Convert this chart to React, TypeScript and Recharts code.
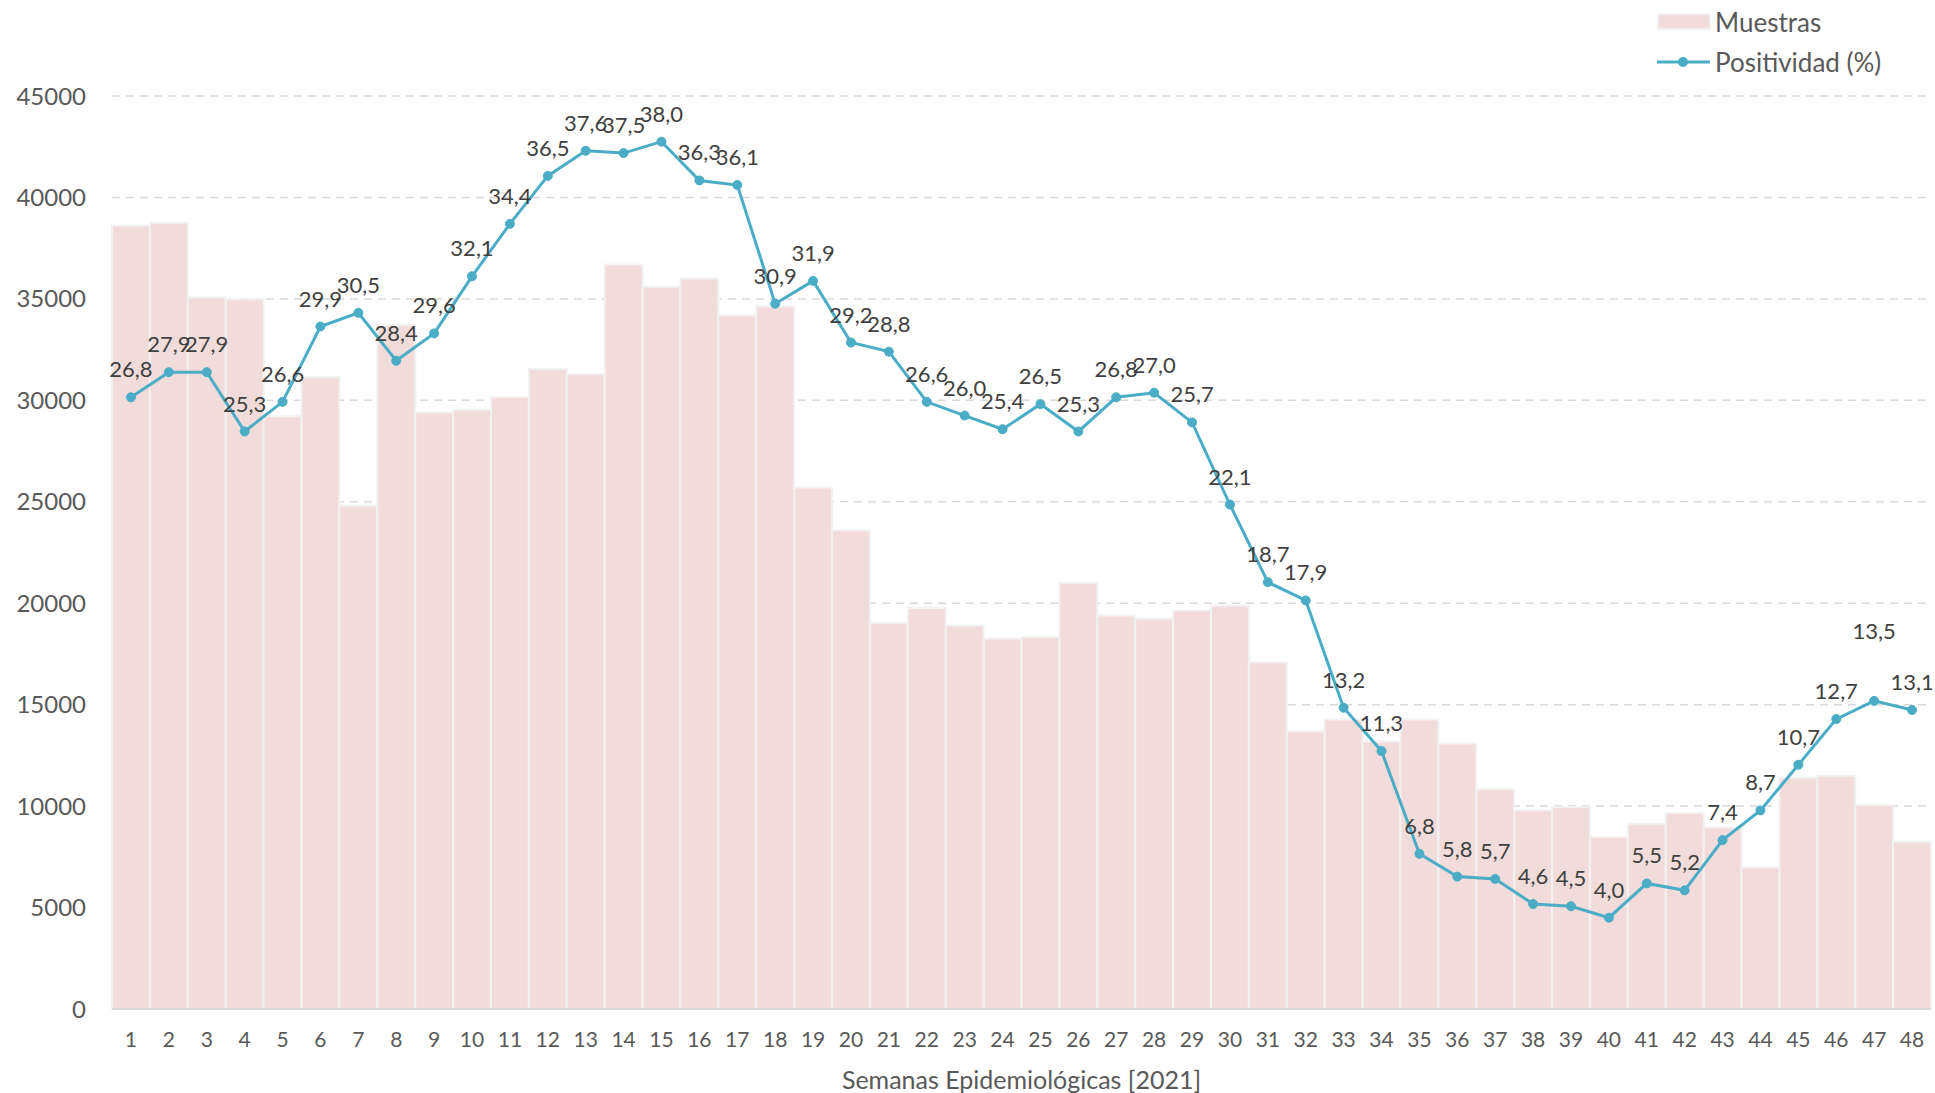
import { ComposedChart, Bar, Line, XAxis, YAxis, CartesianGrid, LabelList } from 'recharts';

const weeks = Array.from({ length: 48 }, (_, i) => String(i + 1));

const muestras = [
  38600, 38750, 35080, 34980, 29210, 31150, 24820, 33700, 29400, 29540,
  30160, 31550, 31300, 36700, 35600, 36000, 34180, 34640, 25700, 23600,
  19030, 19760, 18900, 18260, 18320, 21000, 19400, 19230, 19640, 19880,
  17090, 13680, 14270, 13180, 14270, 13080, 10830, 9800, 9960, 8480,
  9130, 9660, 8950, 6980, 11400, 11500, 10040, 8260,
];

const positividad = [
  26.8, 27.9, 27.9, 25.3, 26.6, 29.9, 30.5, 28.4, 29.6, 32.1,
  34.4, 36.5, 37.6, 37.5, 38.0, 36.3, 36.1, 30.9, 31.9, 29.2,
  28.8, 26.6, 26.0, 25.4, 26.5, 25.3, 26.8, 27.0, 25.7, 22.1,
  18.7, 17.9, 13.2, 11.3, 6.8, 5.8, 5.7, 4.6, 4.5, 4.0,
  5.5, 5.2, 7.4, 8.7, 10.7, 12.7, 13.5, 13.1,
];

const leftTicks = [0, 5000, 10000, 15000, 20000, 25000, 30000, 35000, 40000, 45000];

const data = weeks.map((w, i) => ({ week: w, muestras: muestras[i], positividad: positividad[i] }));

const FONT = 'Lato, "Open Sans", sans-serif';
const TEXT = '#595959';
const BAR = '#F2DCDB';
const LINE = '#4BACC6';

// label for week 47 sits higher in the original
const labelLift: Record<number, number> = { 46: 42 };

const PointLabel = (props: any) => {
  const { x, y, value, index } = props;
  const lift = labelLift[index] || 0;
  return (
    <text x={x} y={y - 20 - lift} textAnchor="middle" fill="#404040" fontSize={22} fontFamily={FONT}>
      {Number(value).toFixed(1).replace('.', ',')}
    </text>
  );
};

const ChartLegend = () => (
  <div style={{ position: 'absolute', left: 1657, top: 2, fontFamily: FONT, fontSize: 26, color: TEXT }}>
    <div style={{ display: 'flex', alignItems: 'center', height: 40 }}>
      <svg width={58} height={20}>
        <rect x={1} y={2} width={52} height={15} fill={BAR} stroke="#F2F2F2" strokeWidth={2} />
      </svg>
      <span>Muestras</span>
    </div>
    <div style={{ display: 'flex', alignItems: 'center', height: 40 }}>
      <svg width={58} height={20}>
        <line x1={0} y1={10} x2={53} y2={10} stroke={LINE} strokeWidth={3} />
        <circle cx={26} cy={10} r={5} fill={LINE} />
      </svg>
      <span>Positividad (%)</span>
    </div>
  </div>
);

export default function App() {
  return (
    <div style={{ position: 'absolute', left: 0, top: 0, width: 1935, height: 1093, background: '#fff' }}>
      <ComposedChart
        width={1935}
        height={1093}
        data={data}
        barCategoryGap={0}
        margin={{ top: 96, right: 4, bottom: 0, left: 0 }}
      >
        <CartesianGrid yAxisId="left" vertical={false} stroke="#D9D9D9" strokeDasharray="8 6" strokeWidth={1.5} />
        <XAxis
          dataKey="week"
          height={84}
          tickLine={false}
          tickSize={0}
          tickMargin={23}
          axisLine={{ stroke: '#D9D9D9', strokeWidth: 2 }}
          tick={{ fill: TEXT, fontSize: 21, fontFamily: FONT }}
          interval={0}
          label={{
            value: 'Semanas Epidemiológicas [2021]',
            position: 'insideBottom',
            offset: 4,
            fill: TEXT,
            fontSize: 25,
            fontFamily: FONT,
          }}
        />
        <YAxis
          yAxisId="left"
          width={112}
          domain={[0, 45000]}
          ticks={leftTicks}
          interval={0}
          axisLine={false}
          tickLine={false}
          tickSize={0}
          tickMargin={26}
          tick={{ fill: TEXT, fontSize: 24, fontFamily: FONT }}
        />
        <YAxis yAxisId="right" orientation="right" domain={[0, 40]} hide width={0} />
        <Bar
          yAxisId="left"
          dataKey="muestras"
          name="Muestras"
          fill={BAR}
          stroke="#F2F2F2"
          strokeWidth={2}
          isAnimationActive={false}
        />
        <Line
          yAxisId="right"
          dataKey="positividad"
          name="Positividad (%)"
          stroke={LINE}
          strokeWidth={3}
          dot={{ r: 4.5, fill: LINE, stroke: LINE, strokeWidth: 1 }}
          activeDot={false}
          isAnimationActive={false}
        >
          <LabelList dataKey="positividad" content={<PointLabel />} />
        </Line>
      </ComposedChart>
      <ChartLegend />
    </div>
  );
}
